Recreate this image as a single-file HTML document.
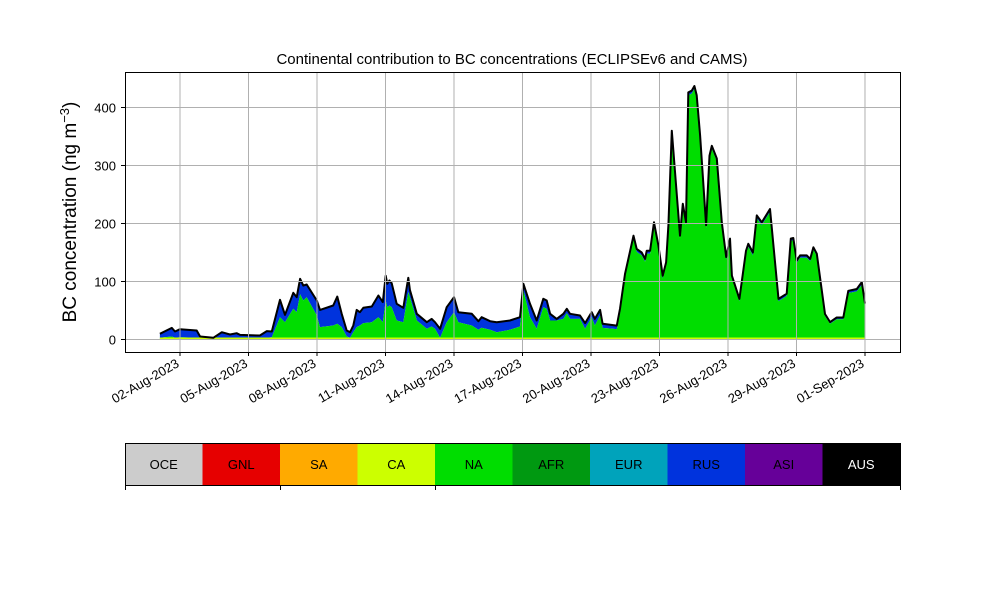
<!DOCTYPE html>
<html><head><meta charset="utf-8"><style>
body{margin:0;background:#fff;font-family:"Liberation Sans",sans-serif}
svg text{font-family:"Liberation Sans",sans-serif}
</style></head><body>
<svg id="chart" width="1000" height="600" viewBox="0 0 1000 600" xmlns="http://www.w3.org/2000/svg">
<rect width="1000" height="600" fill="#fff"/>
<text x="512" y="64" text-anchor="middle" font-size="15">Continental contribution to BC concentrations (ECLIPSEv6 and CAMS)</text>
<g id="series"></g>
<g id="grid"></g>
<rect x="125.5" y="72.5" width="775" height="280" fill="none" stroke="#000" stroke-width="1"/>
<g id="axes"></g>
<text transform="translate(76,212) rotate(-90)" text-anchor="middle" font-size="19">BC concentration (ng m<tspan dy="-7" font-size="13">−3</tspan><tspan dy="7">)</tspan></text>
<g id="legend"></g>
</svg>
<script>
const days = [1.12,1.64,1.78,2.0,2.73,2.88,3.46,3.83,4.19,4.48,4.63,5.50,5.80,6.02,6.38,6.60,6.96,7.11,7.26,7.40,7.55,7.99,8.13,8.71,8.89,9.08,9.30,9.45,9.59,9.74,9.88,10.03,10.40,10.69,10.88,11.01,11.08,11.17,11.27,11.49,11.78,12.00,12.07,12.37,12.81,13.02,13.17,13.39,13.68,14.00,14.19,14.78,15.07,15.21,15.58,15.87,16.45,16.89,17.04,17.33,17.62,17.91,18.06,18.21,18.50,18.79,18.94,19.08,19.52,19.74,20.03,20.17,20.40,
20.51,21.13,21.27,21.49,21.86,22.00,22.22,22.37,22.44,22.59,22.76,22.95,23.14,23.29,23.39,23.54,23.90,24.02,24.16,24.26,24.41,24.53,24.63,24.78,25.04,25.19,25.29,25.51,25.73,25.92,26.09,26.17,26.31,26.50,26.79,26.89,27.09,27.26,27.48,27.84,28.21,28.57,28.75,28.86,29.01,29.16,29.45,29.60,29.74,29.89,30.25,30.47,30.76,31.05,31.27,31.64,31.86,32.00];
const totalBC = [9.8,20,13.8,17.8,15.5,5.2,2.9,12.6,8.6,10.9,8.0,6.9,14.4,13.8,68.4,42.5,80.5,73,104.6,93,94.8,67.2,51,58.6,74,44.3,15.5,12.6,24.1,51,47,54.6,56.9,75.9,64.4,110,96,101.7,97,61.5,54.6,106.3,85.6,44.3,29.9,35.6,29.9,18.4,55.7,73,47,44.3,31.6,38.5,31.6,29.9,32.8,38.5,96,61.5,32.8,70.1,67.2,44.3,35.6,44.3,52.9,44.3,41.4,28.2,47,35.6,51,
27,24,52.9,113,179,156,150,139,153,153,202,162,110,133,197,360,179,234,202,426,429,437,421,352,197,317,334,312,202,142,174,110,93,70,153,165,150,214,202,225,70,79,174,175,136,145,145,139,159,148,44,30,38,38,84,87,99,62];
const naBC = [2.9,5.2,2.9,4,2.9,1,0.5,2.3,1.7,2.3,1.7,1.7,2.9,4,38.5,29.9,52.9,47,78,67.2,73,41.4,21.3,24.1,27,21.3,5.2,2.9,12.6,21.3,24.1,28.2,29.9,38.5,29.9,67.2,55.7,58.6,55.7,32.8,29.9,81.9,73,32.8,18.4,22.4,18.4,2.9,29.9,47,29.9,24.1,16.7,20.1,16.7,12.6,16.7,22.4,84.8,38.5,18.4,55.7,52.9,32.8,32.8,35.6,45.4,35.6,35.6,18.4,38.5,24.1,41.4,
20,18,45,108,174,151,145,134,148,148,197,157,105,128,192,355,175,229,197,421,424,432,416,347,192,312,329,307,197,138,170,106,89,66,148,160,145,209,197,220,66,75,170,171,132,141,141,135,155,144,40,27,35,35,80,83,94,58];
const tickDays = [2,5,8,11,14,17,20,23,26,29,32];
const tickLabels = ["02-Aug-2023","05-Aug-2023","08-Aug-2023","11-Aug-2023","14-Aug-2023","17-Aug-2023","20-Aug-2023","23-Aug-2023","26-Aug-2023","29-Aug-2023","01-Sep-2023"];
const yTicks = [0,100,200,300,400];
const legendNames = ["OCE","GNL","SA","CA","NA","AFR","EUR","RUS","ASI","AUS"];
const legendColors = ["#cccccc","#e60000","#ffaa00","#ccff00","#00dd00","#009911","#00a3bb","#0033dd","#660099","#000000"];

const NS="http://www.w3.org/2000/svg";
function X(d){return 180+(d-2)*22.833;}
function Y(v){return 339.5-v*0.58;}
function mk(tag,attrs,parent){const e=document.createElementNS(NS,tag);for(const k in attrs)e.setAttribute(k,attrs[k]);parent.appendChild(e);return e;}
const gridG=document.getElementById('grid'),axesG=document.getElementById('axes'),seriesG=document.getElementById('series'),legendG=document.getElementById('legend');
tickDays.forEach((d,i)=>{
  const g=mk('line',{x1:X(d),x2:X(d),y1:72,y2:352,stroke:'#b0b0b0','stroke-width':1},gridG);
  
  
  const t=mk('line',{x1:X(d),x2:X(d),y1:352,y2:356,stroke:'#000'},axesG);
  
  
  const lb=mk('text',{x:X(d),y:366,'text-anchor':'end','font-size':13,transform:`rotate(-30 ${X(d)} 366)`},axesG);
  lb.textContent=tickLabels[i];
  
  
});
yTicks.forEach(v=>{
  const g=mk('line',{x1:125,x2:900,y1:Y(v),y2:Y(v),stroke:'#b0b0b0','stroke-width':1},gridG);
  
  
  const t=mk('line',{x1:121,x2:125,y1:Y(v),y2:Y(v),stroke:'#000'},axesG);
  
  
  const lb=mk('text',{x:116,y:Y(v)+5,'text-anchor':'end','font-size':13},axesG);
  lb.textContent=v;
  
  
});
const n=Math.min(days.length,totalBC.length,naBC.length);
let topD='',midD='';
for(let i=0;i<n;i++){topD+=(i?'L':'M')+X(days[i]).toFixed(1)+','+Y(totalBC[i]).toFixed(1);}
for(let i=0;i<n;i++){midD+=(i?'L':'M')+X(days[i]).toFixed(1)+','+Y(naBC[i]).toFixed(1);}
let rusD=topD;for(let i=n-1;i>=0;i--)rusD+='L'+X(days[i]).toFixed(1)+','+Y(naBC[i]).toFixed(1);rusD+='Z';
const rusP=mk('path',{d:rusD,fill:'#0033dd'},seriesG);


const naD=midD+'L'+X(days[n-1]).toFixed(1)+','+Y(0)+'L'+X(days[0]).toFixed(1)+','+Y(0)+'Z';
const naP=mk('path',{d:naD,fill:'#00dd00'},seriesG);


const caL=mk('line',{x1:X(days[0]),x2:X(days[n-1]),y1:Y(0)-1,y2:Y(0)-1,stroke:'#ccff00','stroke-width':2},seriesG);


const tl=mk('path',{d:topD,fill:'none',stroke:'#000','stroke-width':2,'stroke-linejoin':'round'},seriesG);


const bw=77.5;
legendNames.forEach((nm,i)=>{
  const r=mk('rect',{x:125+i*bw,y:443,width:bw+0.5,height:42,fill:legendColors[i]},legendG);
  
  
  const t=mk('text',{x:125+i*bw+bw/2,y:469,'text-anchor':'middle','font-size':13,fill:i==9?'#fff':'#000'},legendG);
  t.textContent=nm;
  
  
});
const fr=mk('rect',{x:125.5,y:443.5,width:775,height:42,fill:'none',stroke:'#000'},legendG);


[125.5,280.5,435.5,900.5].forEach(x=>{
  const t=mk('line',{x1:x,x2:x,y1:485,y2:490,stroke:'#000'},legendG);
  
  
});
</script>
</body></html>
